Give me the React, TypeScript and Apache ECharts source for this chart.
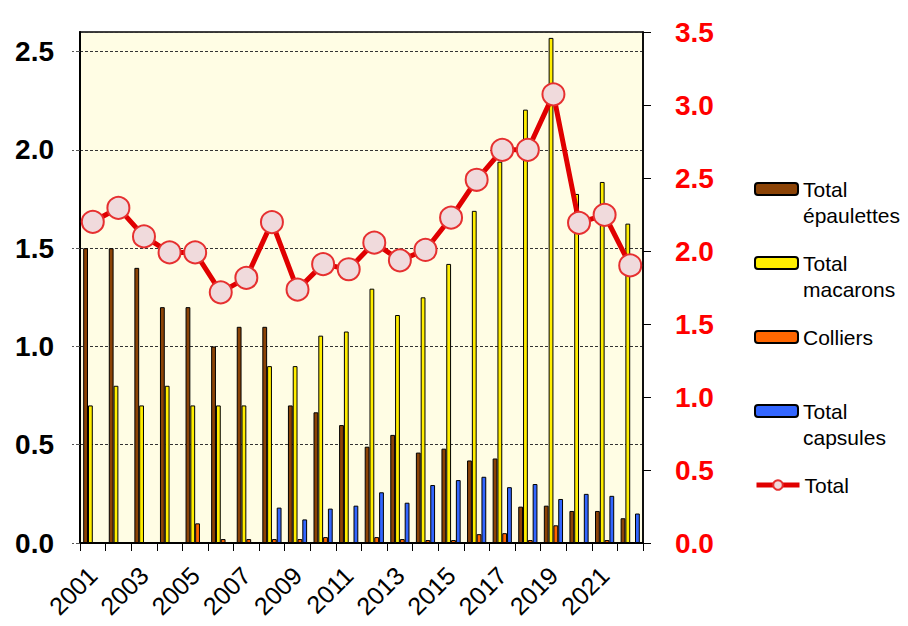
import React, { useEffect, useRef } from "react";
import * as echarts from "echarts";

const years = ["2001","2002","2003","2004","2005","2006","2007","2008","2009","2010","2011","2012","2013","2014","2015","2016","2017","2018","2019","2020","2021","2022"];
const epaulettes = [1.5,1.5,1.4,1.2,1.2,1.0,1.1,1.1,0.7,0.665,0.6,0.49,0.55,0.46,0.48,0.42,0.43,0.185,0.19,0.163,0.163,0.126];
const macarons = [0.7,0.8,0.7,0.8,0.7,0.7,0.7,0.9,0.9,1.055,1.076,1.294,1.16,1.25,1.42,1.69,1.94,2.205,2.57,1.776,1.837,1.625];
const colliers = [0,0,0,0,0.1,0.02,0.02,0.02,0.02,0.03,0.005,0.03,0.02,0.015,0.015,0.045,0.05,0.015,0.09,0.005,0.015,0.005];
const capsules = [0,0,0,0,0,0,0,0.18,0.12,0.175,0.19,0.258,0.205,0.295,0.32,0.337,0.284,0.3,0.224,0.25,0.24,0.15];
const total = [2.2,2.295,2.1,1.99,1.99,1.717,1.816,2.198,1.736,1.91,1.875,2.057,1.936,2.007,2.229,2.488,2.693,2.693,3.073,2.193,2.248,1.901];

const FONT = "'Liberation Sans', Arial, sans-serif";

export default function App() {
  const ref = useRef<HTMLDivElement>(null);
  useEffect(() => {
    if (!ref.current) return;
    const chart = echarts.init(ref.current, null, { renderer: "svg" });
    const L = 26;
    const mkLegend = (name: string, iconY: number, label: string, twoLine: boolean) => ({
      data: [name],
      left: 754,
      top: twoLine ? iconY - 1.5 * L : iconY - L / 2,
      padding: 0,
      itemWidth: 43,
      itemHeight: 12,
      selectedMode: false,
      formatter: () => (twoLine ? " \n" + label : label),
      lineStyle: { width: 5 },
      textStyle: {
        fontFamily: FONT,
        fontSize: 21,
        color: "#000",
        lineHeight: L,
      },
    });
    const barStyle = (color: string) => ({ color, borderColor: "#000", borderWidth: 1 });
    chart.setOption({
      animation: false,
      backgroundColor: "#fff",
      textStyle: { fontFamily: FONT },
      grid: {
        left: 80,
        right: 265,
        top: 32,
        bottom: 83,
        outerBoundsMode: "none",
        containLabel: false,
        show: true,
        backgroundColor: "#FFFDE4",
        borderColor: "#000",
        borderWidth: 1.5,
      },
      legend: [
        mkLegend("Total épaulettes", 189, "Total\népaulettes", true),
        mkLegend("Total macarons", 263, "Total\nmacarons", true),
        mkLegend("Colliers", 337, "Colliers", false),
        mkLegend("Total capsules", 411, "Total\ncapsules", true),
        mkLegend("Total", 485, "Total", false),
      ],
      xAxis: {
        type: "category",
        data: years,
        boundaryGap: true,
        axisLine: { lineStyle: { color: "#000", width: 2 } },
        axisTick: { show: true, interval: 0, length: 8, lineStyle: { color: "#000", width: 1 } },
        axisLabel: {
          interval: 1,
          rotate: 45,
          fontSize: 25,
          color: "#000",
          fontFamily: FONT,
          margin: 28,
        },
      },
      yAxis: [
        {
          type: "value",
          min: 0,
          max: 2.6,
          interval: 0.5,
          axisLine: { show: true, lineStyle: { color: "#000", width: 2 } },
          axisTick: { show: true, length: 8, lineStyle: { color: "#555", type: "dashed" } },
          axisLabel: {
            fontSize: 28,
            fontWeight: "bold",
            color: "#000",
            fontFamily: FONT,
            margin: 26,
            showMaxLabel: false,
            formatter: (v: number) => v.toFixed(1),
          },
          splitLine: { show: true, lineStyle: { color: "#333", type: [3, 2], width: 1 } },
        },
        {
          type: "value",
          min: 0,
          max: 3.5,
          interval: 0.5,
          position: "right",
          axisLine: { show: true, lineStyle: { color: "#000", width: 1.5 } },
          axisTick: { show: true, length: 8, lineStyle: { color: "#000" } },
          axisLabel: {
            fontSize: 28,
            fontWeight: "bold",
            color: "#FF0000",
            fontFamily: FONT,
            margin: 32,
            formatter: (v: number) => v.toFixed(1),
          },
          splitLine: { show: false },
        },
      ],
      series: [
        { name: "Total épaulettes", type: "bar", data: epaulettes, barWidth: 4.8, barGap: "0%", itemStyle: barStyle("#8B4306") },
        { name: "Total macarons", type: "bar", data: macarons, barWidth: 4.8, barGap: "0%", itemStyle: barStyle("#FFEE00") },
        { name: "Colliers", type: "bar", data: colliers, barWidth: 4.8, barGap: "0%", itemStyle: barStyle("#FF6600") },
        { name: "Total capsules", type: "bar", data: capsules, barWidth: 4.8, barGap: "0%", itemStyle: barStyle("#3366FF") },
        {
          name: "Total",
          type: "line",
          yAxisIndex: 1,
          data: total,
          z: 5,
          symbol: "circle",
          symbolSize: 22,
          showAllSymbol: true,
          lineStyle: { color: "#E00000", width: 5 },
          itemStyle: { color: "#F0DADC", borderColor: "#E63030", borderWidth: 2 },
        },
      ],
    });
    return () => chart.dispose();
  }, []);
  return (
    <div
      ref={ref}
      style={{ position: "fixed", left: 0, top: 0, width: 908, height: 626 }}
    />
  );
}
